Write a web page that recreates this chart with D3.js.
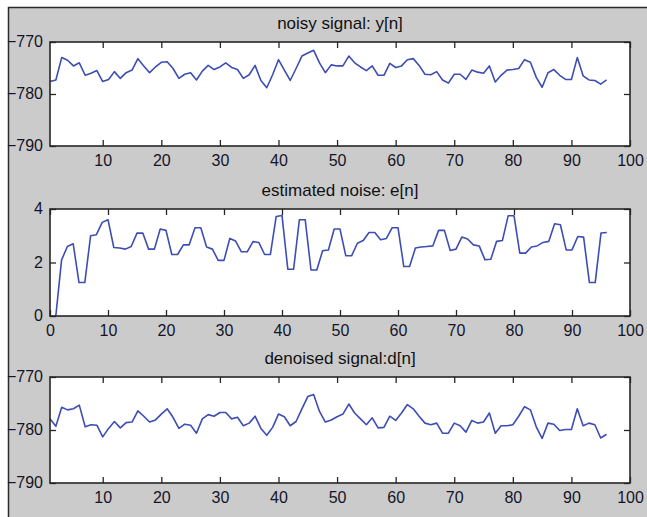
<!DOCTYPE html>
<html>
<head>
<meta charset="utf-8">
<script src="https://cdn.jsdelivr.net/npm/d3@7"></script>
<style>
  html, body { margin: 0; padding: 0; background: #fff; }
  svg { display: block; }
  .tick text { font-family: "Liberation Sans", Arial, sans-serif; font-size: 16px; fill: #141428; }
  .title { font-family: "Liberation Sans", Arial, sans-serif; font-size: 17px; fill: #111; }
</style>
</head>
<body>
<script>

// sample index n = 1..96
var noisy = [-777.6,-777.3,-773.0,-773.5,-774.6,-774.0,-776.4,-776.0,-775.5,-777.6,
  -777.2,-775.7,-777.0,-775.9,-775.4,-773.2,-774.6,-775.9,-774.8,-773.9,
  -773.8,-775.1,-777.0,-776.2,-775.9,-777.3,-775.6,-774.5,-775.3,-774.8,
  -774.0,-774.9,-775.3,-777.0,-776.3,-774.5,-777.4,-778.8,-776.3,-773.4,
  -775.4,-777.4,-775.1,-772.7,-772.1,-771.6,-774.0,-775.9,-774.4,-774.6,
  -774.6,-772.7,-774.0,-774.8,-775.5,-774.6,-776.4,-776.4,-774.1,-774.9,
  -774.6,-773.4,-773.2,-774.5,-776.2,-776.3,-775.7,-777.3,-777.9,-776.2,
  -776.2,-777.2,-775.4,-775.8,-776.0,-774.6,-777.7,-776.4,-775.4,-775.3,
  -775.1,-773.4,-773.9,-776.8,-778.7,-775.9,-775.3,-776.4,-777.2,-777.2,
  -773.0,-776.5,-777.3,-777.4,-778.1,-777.3];

var noise = [0,2.1,2.6,2.7,1.25,1.25,3.0,3.04,3.5,3.6,
  2.56,2.54,2.5,2.6,3.1,3.1,2.5,2.5,3.25,3.2,
  2.3,2.3,2.66,2.66,3.3,3.3,2.58,2.5,2.08,2.08,
  2.9,2.8,2.4,2.4,2.78,2.75,2.3,2.3,3.72,3.76,
  1.75,1.75,3.6,3.6,1.72,1.72,2.44,2.47,3.25,3.25,
  2.25,2.25,2.72,2.82,3.12,3.12,2.85,2.9,3.3,3.3,
  1.85,1.85,2.54,2.58,2.6,2.62,3.2,3.2,2.45,2.5,
  2.95,2.88,2.66,2.62,2.1,2.12,2.79,2.82,3.75,3.75,
  2.35,2.35,2.58,2.62,2.75,2.79,3.45,3.41,2.47,2.47,
  2.97,2.95,1.25,1.25,3.1,3.12];

var denoised = [-777.9,-779.3,-775.7,-776.2,-776.0,-775.3,-779.4,-779.0,-779.1,-781.3,
  -779.7,-778.4,-779.6,-778.6,-778.5,-776.4,-777.4,-778.5,-778.1,-777.0,
  -776.0,-777.6,-779.7,-778.9,-779.1,-780.6,-777.9,-777.1,-777.4,-776.7,
  -776.7,-777.9,-777.6,-779.2,-778.7,-777.4,-779.7,-781.0,-779.5,-777.0,
  -777.5,-779.2,-778.4,-776.0,-773.7,-773.3,-776.5,-778.5,-778.1,-777.5,
  -777.0,-775.1,-776.8,-777.9,-779.0,-777.7,-779.6,-779.5,-777.4,-778.2,
  -776.8,-775.2,-776.0,-777.4,-778.7,-779.0,-778.7,-780.6,-780.6,-778.7,
  -779.2,-780.4,-778.2,-778.7,-778.5,-776.8,-780.6,-779.2,-779.2,-779.0,
  -777.4,-775.6,-776.2,-779.4,-781.6,-778.7,-778.9,-780.1,-779.9,-779.9,
  -776.0,-779.2,-778.7,-779.0,-781.5,-780.8];

var titles = ["noisy signal: y[n]", "estimated noise: e[n]", "denoised signal:d[n]"];
var signalTicks = [-790, -780, -770];
var noiseTicks = [0, 2, 4];
var xTicks = [10, 20, 30, 40, 50, 60, 70, 80, 90, 100];
var xTicksZero = [0, 10, 20, 30, 40, 50, 60, 70, 80, 90, 100];

var width = 647, height = 517;

var svg = d3.select("body").append("svg")
  .attr("width", width)
  .attr("height", height);

// figure background with dark edge on top / left
svg.append("rect")
  .attr("x", 8).attr("y", 7)
  .attr("width", width - 8).attr("height", height - 7)
  .attr("fill", "#cbcbcb");
svg.append("path")
  .attr("d", "M8.5," + height + "V7.5H" + width)
  .attr("fill", "none")
  .attr("stroke", "#2a2a2a")
  .attr("stroke-width", 1.5);

var panels = [
  {values: noisy, top: 42, bottom: 146, xdom: [1, 100], ydom: [-790, -770], yticks: signalTicks, xlabels: xTicks},
  {values: noise, top: 209, bottom: 316, xdom: [0, 100], ydom: [0, 4], yticks: noiseTicks, xlabels: xTicksZero},
  {values: denoised, top: 377, bottom: 483, xdom: [1, 100], ydom: [-790, -770], yticks: signalTicks, xlabels: xTicks}
];

var left = 50, right = 630, tickLen = 6;

panels.forEach(function (p, i) {

  var x = d3.scaleLinear().domain(p.xdom).range([left, right]);
  var y = d3.scaleLinear().domain(p.ydom).range([p.bottom, p.top]);

  var g = svg.append("g");

  // white plot area
  g.append("rect")
    .attr("x", left).attr("y", p.top)
    .attr("width", right - left).attr("height", p.bottom - p.top)
    .attr("fill", "#fff");

  // bottom axis with labels, ticks pointing in
  var bottomAxis = g.append("g")
    .attr("transform", "translate(0," + p.bottom + ")")
    .call(d3.axisBottom(x).tickValues(p.xlabels).tickSize(-tickLen).tickPadding(9).tickFormat(d3.format("d")));

  // top axis, ticks only
  var topAxis = g.append("g")
    .attr("transform", "translate(0," + p.top + ")")
    .call(d3.axisTop(x).tickValues(p.xlabels).tickSize(-tickLen).tickFormat(""));

  var leftAxis = g.append("g")
    .attr("transform", "translate(" + left + ",0)")
    .call(d3.axisLeft(y).tickValues(p.yticks).tickSize(-tickLen).tickPadding(7).tickFormat(d3.format("d")));

  var rightAxis = g.append("g")
    .attr("transform", "translate(" + right + ",0)")
    .call(d3.axisRight(y).tickValues(p.yticks).tickSize(-tickLen).tickFormat(""));

  [bottomAxis, topAxis, leftAxis, rightAxis].forEach(function (a) {
    a.select(".domain").remove();
    a.selectAll("line").attr("stroke", "#262626").attr("stroke-width", 1.3);
  });
  leftAxis.selectAll("text").attr("dy", "0.3em");

  // the series
  var line = d3.line()
    .x(function (d, j) { return x(j + 1); })
    .y(function (d) { return y(d); });

  g.append("path")
    .datum(p.values)
    .attr("d", line)
    .attr("fill", "none")
    .attr("stroke", "#3c4db4")
    .attr("stroke-width", 1.6)
    .attr("stroke-linejoin", "round");

  // axes box
  g.append("rect")
    .attr("x", left).attr("y", p.top)
    .attr("width", right - left).attr("height", p.bottom - p.top)
    .attr("fill", "none")
    .attr("stroke", "#262626")
    .attr("stroke-width", 1.6);

  g.append("text")
    .attr("class", "title")
    .attr("x", (left + right) / 2)
    .attr("y", p.top - 13)
    .attr("text-anchor", "middle")
    .text(titles[i]);
});

</script>
</body>
</html>
